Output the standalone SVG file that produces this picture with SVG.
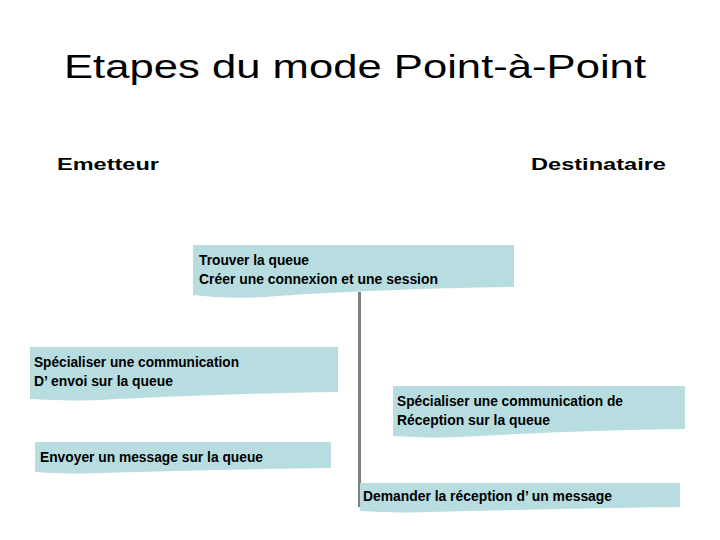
<svg xmlns="http://www.w3.org/2000/svg" width="720" height="540" viewBox="0 0 720 540">
<style>
.title{font-family:"Liberation Sans",Arial,sans-serif;font-size:32.5px;fill:#000}
.head{font-family:"Liberation Sans",Arial,sans-serif;font-size:16.5px;font-weight:bold;fill:#000}
.box{fill:#b7dde1;stroke:none}
.t{font-family:"Liberation Sans",Arial,sans-serif;font-size:14px;font-weight:bold;fill:#000}
.line{stroke:#7f7f7f;stroke-width:3;fill:none}
</style>
<rect width="720" height="540" fill="#fff"/>
<text class="title" x="64" y="78" textLength="582" lengthAdjust="spacingAndGlyphs">Etapes du mode Point-à-Point</text>
<text class="head" x="57" y="169.5" textLength="102" lengthAdjust="spacingAndGlyphs">Emetteur</text>
<text class="head" x="531" y="169.5" textLength="135" lengthAdjust="spacingAndGlyphs">Destinataire</text>
<g id="connectors">
<line class="line" x1="359.5" y1="292" x2="359.5" y2="507"/>
</g>
<g id="n1">
<path class="box" d="M193,245 H514 V287 C430,288 330,292 265,297 C235,299 212,297 193,295 Z"/>
<text class="t" x="199" y="264.5" textLength="110" lengthAdjust="spacingAndGlyphs">Trouver la queue</text>
<text class="t" x="199" y="284" textLength="239" lengthAdjust="spacingAndGlyphs">Créer une connexion et une session</text>
</g>
<g id="n2">
<path class="box" d="M30,347 H338 V392 C260,393 170,396 100,400 C70,401 50,400 30,399 Z"/>
<text class="t" x="34" y="366.5" textLength="205" lengthAdjust="spacingAndGlyphs">Spécialiser une communication</text>
<text class="t" x="34" y="385.5" textLength="139" lengthAdjust="spacingAndGlyphs">D’ envoi sur la queue</text>
</g>
<g id="n3">
<path class="box" d="M393,386 H685 V429 C610,430 530,433 460,437 C430,438 410,437 393,436 Z"/>
<text class="t" x="397" y="406" textLength="226" lengthAdjust="spacingAndGlyphs">Spécialiser une communication de</text>
<text class="t" x="397" y="425" textLength="153" lengthAdjust="spacingAndGlyphs">Réception sur la queue</text>
</g>
<g id="n4">
<path class="box" d="M35,442 H331 V468 C250,469 170,471 100,473 C70,474 50,473 35,472 Z"/>
<text class="t" x="40" y="462" textLength="223" lengthAdjust="spacingAndGlyphs">Envoyer un message sur la queue</text>
</g>
<g id="n5">
<path class="box" d="M360,483 H680 V507 C600,508 510,510 430,512 C400,513 380,512 360,511 Z"/>
<text class="t" x="363" y="501" textLength="249" lengthAdjust="spacingAndGlyphs">Demander la réception d’ un message</text>
</g>
</svg>
